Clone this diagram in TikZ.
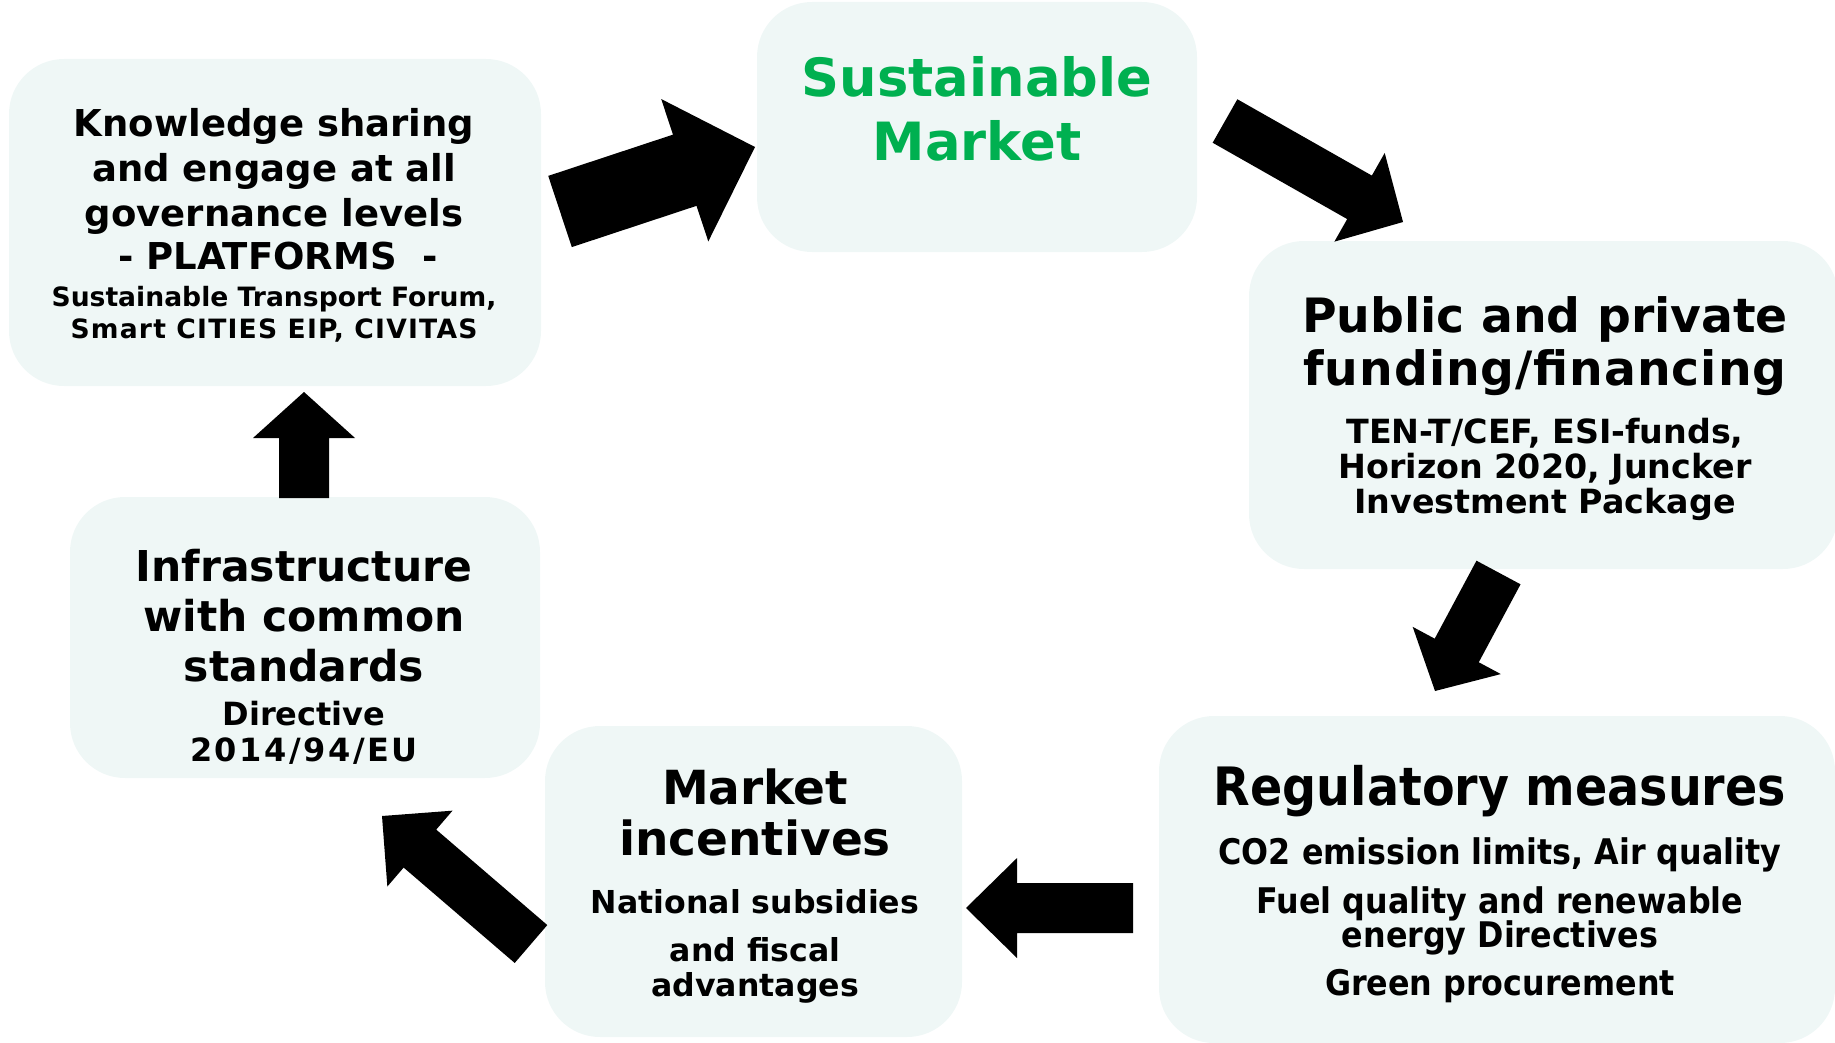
\documentclass[tikz,border=0pt]{standalone}
\usepackage{fontspec}
\setmainfont{DejaVu Sans}
\newfontfamily\condfont{DejaVu Sans Condensed}
\usetikzlibrary{calc}
\definecolor{boxfill}{RGB}{239,247,246}
\definecolor{titlegreen}{RGB}{0,176,80}
\newcommand{\fsz}[2]{\fontsize{#1}{#2}\selectfont\bfseries}
\newcommand{\blockarrow}[5]{%
  \coordinate (hb) at ($(#2)!#5!(#1)$);
  \fill[arrowfill] ($(#1)!#3!90:(#2)$) -- ($(hb)!#3!90:(#2)$) -- ($(hb)!#4!90:(#2)$) -- (#2)
    -- ($(hb)!#4!-90:(#2)$) -- ($(hb)!#3!-90:(#2)$) -- ($(#1)!#3!-90:(#2)$) -- cycle;}
\begin{document}
\begin{tikzpicture}[x=1pt,y=-1pt,
  box/.style={fill=boxfill, draw=none, rounded corners=55pt, inner sep=0pt},
  txt/.style={anchor=base, inner sep=0pt, yshift=-3.5pt},
  arrowfill/.style={fill=black}]
\useasboundingbox (0,0) rectangle (1835,1043);
% boxes
\node[box, minimum width=532pt, minimum height=327pt] (kn) at (275,222.5) {};
\node[box, minimum width=440pt, minimum height=250pt] (sm) at (977,127) {};
\node[box, minimum width=589pt, minimum height=328pt] (pf) at (1543.5,405) {};
\node[box, minimum width=676pt, minimum height=327pt] (rg) at (1497,879.5) {};
\node[box, minimum width=417pt, minimum height=311pt] (mi) at (753.5,881.5) {};
\node[box, minimum width=470pt, minimum height=281pt] (in) at (305,637.5) {};
% Knowledge
\node[txt, font=\fsz{37}{44}] (kn1) at (274,133) {Knowledge sharing};
\node[txt, font=\fsz{37}{44}] (kn2) at (274,178) {and engage at all};
\node[txt, font=\fsz{37}{44}] (kn3) at (274,223) {governance levels};
\node[txt, font=\fsz{37}{44}] (kn4) at (278,266) {- PLATFORMS\ \ -};
\node[txt, font=\fsz{26.6}{32}] (kn5) at (274,303) {Sustainable Transport Forum,};
\node[txt, font=\fsz{26.6}{32}\addfontfeature{LetterSpace=4.5}] (kn6) at (274,335) {Smart CITIES EIP, CIVITAS};
% Sustainable Market
\node[txt, font=\fsz{52.7}{63}, text=titlegreen] (sm1) at (977,93) {Sustainable};
\node[txt, font=\fsz{52.7}{63}, text=titlegreen] (sm2) at (977,157) {Market};
% Public
\node[txt, font=\fsz{47.3}{53}] (pf1) at (1545,329) {Public and private};
\node[txt, font=\fsz{47.3}{53}\addfontfeature{LetterSpace=2}] (pf2) at (1545,382) {funding/financing};
\node[txt, font=\fsz{33.3}{35}] (pf3) at (1545,440) {TEN-T/CEF, ESI-funds,};
\node[txt, font=\fsz{33.3}{35}] (pf4) at (1545,475) {Horizon 2020, Juncker};
\node[txt, font=\fsz{33.3}{35}] (pf5) at (1545,510) {Investment Package};
% Regulatory
\node[txt, font=\condfont\fsz{52.9}{60}] (rg1) at (1500,802) {Regulatory measures};
\node[txt, font=\condfont\fsz{35.3}{36}] (rg2) at (1500,861) {CO2 emission limits, Air quality};
\node[txt, font=\condfont\fsz{35.3}{36}] (rg3) at (1500,910) {Fuel quality and renewable};
\node[txt, font=\condfont\fsz{35.3}{36}] (rg4) at (1500,944) {energy Directives};
\node[txt, font=\condfont\fsz{35.3}{36}] (rg5) at (1500,992) {Green procurement};
% Market incentives
\node[txt, font=\fsz{47}{50}] (mi1) at (755,801) {Market};
\node[txt, font=\fsz{47}{50}] (mi2) at (755,852) {incentives};
\node[txt, font=\fsz{31.6}{36}] (mi3) at (755,910) {National subsidies};
\node[txt, font=\fsz{31.6}{36}] (mi4) at (755,958) {and fiscal};
\node[txt, font=\fsz{31.6}{36}] (mi5) at (755,993) {advantages};
% Infrastructure
\node[txt, font=\fsz{42.5}{50}] (in1) at (304,578) {Infrastructure};
\node[txt, font=\fsz{42.5}{50}] (in2) at (304,628) {with common};
\node[txt, font=\fsz{42.5}{50}] (in3) at (304,678) {standards};
\node[txt, font=\fsz{32}{36}] (in4) at (304,722) {Directive};
\node[txt, font=\fsz{32}{36}\addfontfeature{LetterSpace=8}] (in5) at (304,758) {2014/94/EU};
% arrow end points
\coordinate (a1s) at (560,211.5); \coordinate (a1t) at (755,147);
\coordinate (a2s) at (1225,121);  \coordinate (a2t) at (1403,222);
\coordinate (a3s) at (1498.5,572.5); \coordinate (a3t) at (1435,691);
\coordinate (a4s) at (1133,908);  \coordinate (a4t) at (966,908);
\coordinate (a5s) at (531,944);   \coordinate (a5t) at (382,816);
\coordinate (a6s) at (304,498);   \coordinate (a6t) at (304,392);
\blockarrow{a1s}{a1t}{37.5pt}{75pt}{74pt}
\blockarrow{a2s}{a2t}{25pt}{51pt}{50pt}
\blockarrow{a3s}{a3t}{25pt}{50pt}{46pt}
\blockarrow{a4s}{a4t}{25pt}{50pt}{51pt}
\blockarrow{a5s}{a5t}{25pt}{50pt}{50pt}
\blockarrow{a6s}{a6t}{25pt}{51pt}{46pt}
\end{tikzpicture}
\end{document}
